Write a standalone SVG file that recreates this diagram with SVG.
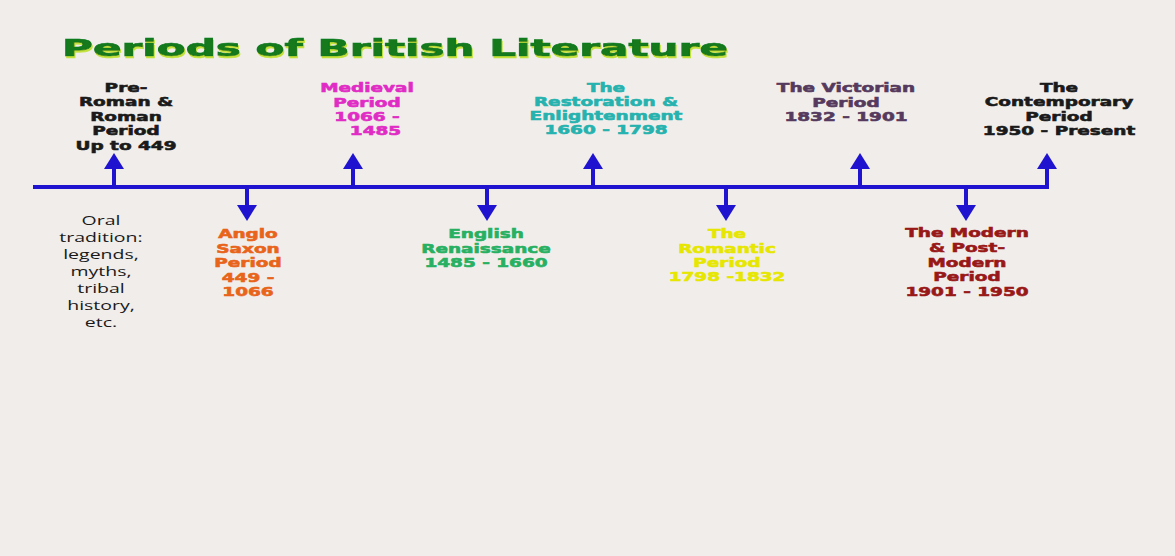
<svg xmlns="http://www.w3.org/2000/svg" width="1175" height="556" viewBox="0 0 1175 556">
<defs>
<style>
.t{font-family:"DejaVu Sans","Liberation Sans",sans-serif;font-weight:bold;font-size:13px;text-anchor:middle;stroke-width:0.6}
.o{font-family:"Open Sans","Liberation Sans",sans-serif;font-size:13px;text-anchor:middle;fill:#1a1a1a}
.title{font-family:"DejaVu Sans","Liberation Sans",sans-serif;font-weight:bold;font-size:23px;fill:#127a1e;stroke:#127a1e;stroke-width:0.7}
.ln{fill:none;stroke:#1f13cf;stroke-width:4}
</style>
<filter id="shadow" x="-5%" y="-30%" width="110%" height="160%">
<feFlood flood-color="#c2e23a"/>
<feComposite in2="SourceAlpha" operator="in"/>
<feOffset dx="1" dy="1.5" result="sh"/>
<feMerge><feMergeNode in="sh"/><feMergeNode in="SourceGraphic"/></feMerge>
</filter>
<marker id="ah" markerUnits="userSpaceOnUse" markerWidth="16" markerHeight="20" viewBox="0 0 16 20" refX="0" refY="10" orient="auto">
<path d="M0,0 L16,10 L0,20 Z" fill="#1f13cf"/>
</marker>
</defs>
<rect width="1175" height="556" fill="#f0edea"/>
<text class="title" x="62" y="56" textLength="666" lengthAdjust="spacingAndGlyphs" filter="url(#shadow)">Periods of British Literature</text>

<g id="connectors">
<path class="ln" d="M33 187 H1047 V169" marker-end="url(#ah)"/>
<line class="ln" x1="114" y1="189" x2="114" y2="169" marker-end="url(#ah)"/>
<line class="ln" x1="353" y1="189" x2="353" y2="169" marker-end="url(#ah)"/>
<line class="ln" x1="593" y1="189" x2="593" y2="169" marker-end="url(#ah)"/>
<line class="ln" x1="860" y1="189" x2="860" y2="169" marker-end="url(#ah)"/>
<line class="ln" x1="247" y1="185" x2="247" y2="205" marker-end="url(#ah)"/>
<line class="ln" x1="487" y1="185" x2="487" y2="205" marker-end="url(#ah)"/>
<line class="ln" x1="726" y1="185" x2="726" y2="205" marker-end="url(#ah)"/>
<line class="ln" x1="966" y1="185" x2="966" y2="205" marker-end="url(#ah)"/>
</g>

<g id="pre-roman" transform="translate(126 0) scale(1.42 1)" fill="#1a1a1a" stroke="#1a1a1a">
<text class="t" x="0" y="92">Pre-</text>
<text class="t" x="0" y="106">Roman &amp;</text>
<text class="t" x="0" y="121">Roman</text>
<text class="t" x="0" y="135">Period</text>
<text class="t" x="0" y="150">Up to 449</text>
</g>

<g id="medieval" transform="translate(367 0) scale(1.42 1)" fill="#e02cc4" stroke="#e02cc4">
<text class="t" x="0" y="92">Medieval</text>
<text class="t" x="0" y="107">Period</text>
<text class="t" x="0" y="121">1066 -</text>
<text class="t" x="6" y="135">1485</text>
</g>

<g id="restoration" transform="translate(606 0) scale(1.42 1)" fill="#26b2ae" stroke="#26b2ae">
<text class="t" x="0" y="92">The</text>
<text class="t" x="0" y="106">Restoration &amp;</text>
<text class="t" x="0" y="120">Enlightenment</text>
<text class="t" x="0" y="134">1660 - 1798</text>
</g>

<g id="victorian" transform="translate(846 0) scale(1.42 1)" fill="#553a5e" stroke="#553a5e">
<text class="t" x="0" y="92">The Victorian</text>
<text class="t" x="0" y="107">Period</text>
<text class="t" x="0" y="121">1832 - 1901</text>
</g>

<g id="contemporary" transform="translate(1059 0) scale(1.42 1)" fill="#1a1a1a" stroke="#1a1a1a">
<text class="t" x="0" y="92">The</text>
<text class="t" x="0" y="106">Contemporary</text>
<text class="t" x="0" y="121">Period</text>
<text class="t" x="0" y="135">1950 - Present</text>
</g>

<g id="oral" transform="translate(101 0) scale(1.5 1)">
<text class="o" x="0" y="225">Oral</text>
<text class="o" x="0" y="242">tradition:</text>
<text class="o" x="0" y="259">legends,</text>
<text class="o" x="0" y="276">myths,</text>
<text class="o" x="0" y="293">tribal</text>
<text class="o" x="0" y="310">history,</text>
<text class="o" x="0" y="327">etc.</text>
</g>

<g id="anglo-saxon" transform="translate(248 0) scale(1.42 1)" fill="#e8641a" stroke="#e8641a">
<text class="t" x="0" y="238">Anglo</text>
<text class="t" x="0" y="253">Saxon</text>
<text class="t" x="0" y="267">Period</text>
<text class="t" x="0" y="282">449 -</text>
<text class="t" x="0" y="296">1066</text>
</g>

<g id="renaissance" transform="translate(486 0) scale(1.42 1)" fill="#28b062" stroke="#28b062">
<text class="t" x="0" y="238">English</text>
<text class="t" x="0" y="253">Renaissance</text>
<text class="t" x="0" y="267">1485 - 1660</text>
</g>

<g id="romantic" transform="translate(727 0) scale(1.42 1)" fill="#e6e600" stroke="#e6e600">
<text class="t" x="0" y="238">The</text>
<text class="t" x="0" y="253">Romantic</text>
<text class="t" x="0" y="267">Period</text>
<text class="t" x="0" y="281">1798 -1832</text>
</g>

<g id="modern" transform="translate(967 0) scale(1.42 1)" fill="#981818" stroke="#981818">
<text class="t" x="0" y="237">The Modern</text>
<text class="t" x="0" y="252">&amp; Post-</text>
<text class="t" x="0" y="267">Modern</text>
<text class="t" x="0" y="281">Period</text>
<text class="t" x="0" y="296">1901 - 1950</text>
</g>
</svg>
